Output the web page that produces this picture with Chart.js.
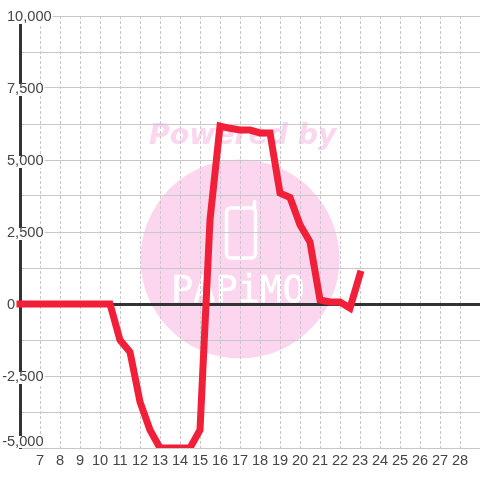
<!DOCTYPE html>
<html>
<head>
<meta charset="utf-8">
<style>html,body{margin:0;padding:0;background:#fff}canvas{display:block}</style>
<script src="https://cdn.jsdelivr.net/npm/chart.js@4"></script>
</head>
<body>
<canvas id="c" width="480" height="480"></canvas>
<script>
const hours = [6,6.5,7,7.5,8,8.5,9,9.5,10,10.5,11,11.5,12,12.5,13,13.5,14,14.5,15,15.5,16,16.5,17,17.5,18,18.5,19,19.5,20,20.5,21,21.5,22,22.5,23];
const values = [0,0,0,0,0,0,0,0,0,0,-1250,-1670,-3400,-4375,-5000,-5000,-5000,-5000,-4375,2917,6180,6100,6040,6040,5940,5940,3850,3700,2750,2150,140,70,70,-140,1040];
const yMin = -5000, yMax = 10000, yStep = 1250, yLabelStep = 2500;
const xMin = 6, xMax = 29, xFirstLabel = 7, xLastLabel = 28;
const watermarkTop = 'Powered by';
const watermarkBottom = 'PAPiMO';

const pink = '#fbd6ee';
const tickFont = '"Liberation Sans"', tickSize = 14.6;
const watermark = {
  id: 'watermark',
  beforeDraw(chart) {
    const c = chart.ctx;
    c.save();
    c.fillStyle = pink;
    c.beginPath(); c.arc(240, 259, 99.5, 0, Math.PI * 2); c.fill();
    c.font = 'italic bold 28.3px "DejaVu Sans"';
    c.textAlign = 'left'; c.textBaseline = 'alphabetic';
    c.fillText(watermarkTop, 149, 144);
    c.fillStyle = c.strokeStyle = '#ffffff';
    c.font = '37px "DejaVu Sans Mono"';
    c.lineWidth = 0.4;
    c.fillText(watermarkBottom, 171, 302);
    c.strokeText(watermarkBottom, 171, 302);
    c.lineWidth = 3.5; c.lineCap = 'round'; c.lineJoin = 'round';
    c.beginPath(); c.roundRect(226.5, 208, 29, 50, 4); c.stroke();
    c.beginPath(); c.moveTo(254.5, 210); c.lineTo(254.5, 201.5); c.stroke();
    c.restore();

    // tick label placement: hanging minus sign, bottom label raised, tight backdrop
    for (const item of chart.scales.y.getLabelItems()) {
      if (item.done) continue;
      item.done = true;
      const o = item.options, text = String(item.label);
      c.save(); c.font = tickSize + 'px ' + tickFont;
      const w = c.measureText(text).width;
      const dash = text[0] === '-' ? c.measureText('-').width : 0;
      c.restore();
      o.translation = [o.translation[0] - dash, o.translation[1] + 1];
      if (o.backdrop) {
        o.backdrop.left = 0; o.backdrop.width = text ? w + 1 : 0;
        o.backdrop.top = -5; o.backdrop.height = 12;
      }
      if (text === '-5,000') {
        o.translation[1] -= 7;
        if (o.backdrop) { o.backdrop.top = -6; }
      }
    }
  }
};

new Chart(document.getElementById('c'), {
  type: 'line',
  plugins: [watermark],
  data: { datasets: [{
    data: hours.map((h, i) => ({ x: h, y: values[i] })),
    borderColor: '#f21f38', borderWidth: 7, pointRadius: 0, tension: 0,
    borderCapStyle: 'square', borderJoinStyle: 'miter',
    clip: { left: 4, top: 0, right: 0, bottom: 0 }
  }] },
  options: {
    responsive: false, animation: false, events: [],
    layout: { padding: { left: 20, top: 16, right: 0, bottom: 0 } },
    plugins: { legend: { display: false }, tooltip: { enabled: false }, title: { display: false } },
    scales: {
      x: {
        type: 'linear', min: xMin, max: xMax,
        afterFit(s) { s.height = 32; s.paddingRight = 0; s.paddingLeft = 0; },
        border: { display: false, dash: [3, 2] },
        grid: { color: '#c8c8c8', lineWidth: 1, drawTicks: false },
        ticks: {
          stepSize: 1, autoSkip: false, maxRotation: 0, padding: 4, color: '#444',
          font: { family: tickFont, size: tickSize },
          callback: v => (v >= xFirstLabel && v <= xLastLabel) ? String(v) : ''
        }
      },
      y: {
        min: yMin, max: yMax,
        afterFit(s) { s.width = 0; },
        border: { display: true, color: '#333', width: 3 },
        grid: {
          drawTicks: false,
          color: c => c.tick && c.tick.value === 0 ? '#333' : '#c8c8c8',
          lineWidth: c => c.tick && c.tick.value === 0 ? 3 : 1
        },
        ticks: {
          stepSize: yStep, autoSkip: false, mirror: true, padding: -13, color: '#444',
          font: { family: tickFont, size: tickSize },
          showLabelBackdrop: true, backdropColor: '#fff', backdropPadding: 0,
          callback: v => v % yLabelStep === 0 ? v.toLocaleString('en-US') : ''
        }
      }
    }
  }
});
</script>
</body>
</html>
